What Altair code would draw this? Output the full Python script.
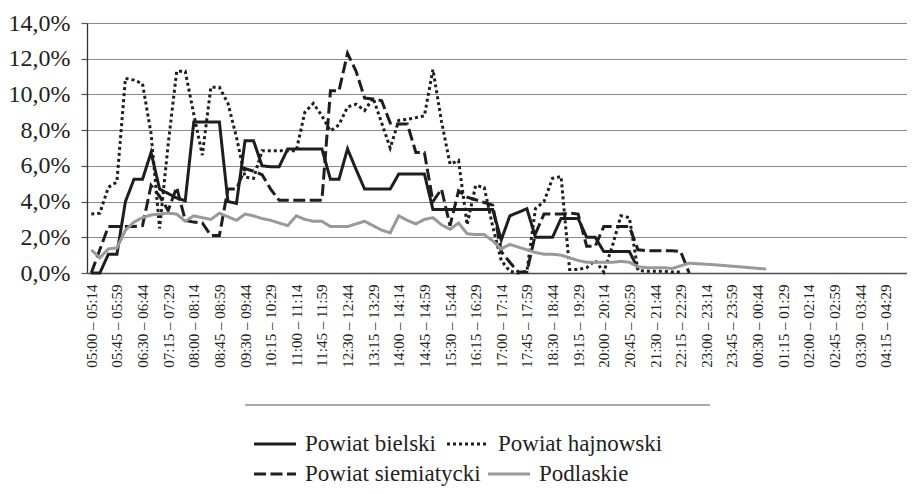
import altair as alt
import pandas as pd

# ---- categories: 15-minute intervals starting 05:00 ----
start_minutes = [(5 * 60 + 15 * k) % 1440 for k in range(96)]


def hhmm(m):
    return f"{m // 60:02d}:{m % 60:02d}"


slots = [f"{hhmm(m)} – {hhmm((m + 14) % 1440)}" for m in start_minutes]
tick_slots = slots[::3]

names_row1 = ["Powiat bielski", "Powiat hajnowski"]
names_row2 = ["Powiat siemiatycki", "Podlaskie"]

# ---- values in % ----
bielski = [0, 0, 1.05, 1.05, 4.0, 5.25, 5.25, 6.75, 4.7, 4.45,
           4.2, 4.05, 8.45, 8.45, 8.45, 8.45, 4.0, 3.9, 7.4, 7.4,
           6.0, 5.95, 5.95, 6.95, 6.95, 6.95, 6.95, 6.95, 5.25, 5.25,
           6.95, 5.8, 4.7, 4.7, 4.7, 4.7, 5.55, 5.55, 5.55, 5.55,
           3.55, 3.55, 3.55, 3.55, 3.55, 3.55, 3.55, 3.55, 1.85, 3.2,
           3.4, 3.6, 2.0, 2.0, 2.0, 3.05, 3.05, 3.05, 2.0, 2.0,
           1.2, 1.2, 1.2, 1.2, 0.25]

hajnowski = [3.3, 3.35, 4.8, 5.1, 10.9, 10.8, 10.6, 7.8, 2.5, 7.2,
             11.3, 11.3, 8.9, 6.6, 10.4, 10.4, 9.5, 7.6, 5.37, 5.3,
             6.85, 6.85, 6.85, 6.85, 6.85, 9.0, 9.5, 8.8, 7.95, 8.3,
             9.3, 9.45, 9.1, 9.8, 8.4, 7.0, 8.55, 8.6, 8.7, 8.8,
             11.4, 8.5, 6.1, 6.3, 2.7, 4.9, 4.8, 2.6, 0.7, 0.1,
             0.0, 0.1, 3.6, 4.0, 5.3, 5.4, 0.2, 0.2, 0.3, 0.7,
             0.05, 1.5, 3.2, 3.1, 0.15, 0.1, 0.1, 0.1, 0.05, 0.05]

siemiatycki = [0, 1.3, 2.6, 2.6, 2.6, 2.6, 2.65, 4.9, 4.3, 3.5,
               4.8, 2.95, 2.85, 2.8, 2.1, 2.1, 4.7, 4.7, 5.85, 5.7,
               5.5, 4.7, 4.07, 4.07, 4.07, 4.07, 4.07, 4.07, 10.2, 10.2,
               12.3, 11.3, 9.8, 9.75, 9.65, 8.4, 8.35, 8.35, 6.75, 6.75,
               4.0, 4.7, 2.65, 4.6, 4.25, 4.1, 3.95, 3.8, 1.2, 0.6,
               0.05, 0.05, 2.2, 3.3, 3.3, 3.3, 3.35, 3.3, 1.5, 1.5,
               2.6, 2.6, 2.6, 2.6, 1.3, 1.25, 1.25, 1.25, 1.25, 1.2,
               0.0]

podlaskie = [1.3, 0.85, 1.35, 1.4, 2.4, 2.85, 3.1, 3.25, 3.3, 3.35,
             3.3, 2.9, 3.2, 3.1, 3.0, 3.35, 3.15, 2.95, 3.3, 3.2,
             3.05, 2.95, 2.8, 2.65, 3.2, 3.0, 2.9, 2.9, 2.6, 2.6,
             2.6, 2.75, 2.9, 2.65, 2.4, 2.25, 3.2, 2.95, 2.75, 3.0,
             3.1, 2.7, 2.45, 2.8, 2.2, 2.15, 2.15, 1.8, 1.35, 1.6,
             1.45, 1.3, 1.15, 1.05, 1.05, 1.0, 0.85, 0.7, 0.6, 0.6,
             0.6, 0.6, 0.65, 0.6, 0.35, 0.3, 0.3, 0.3, 0.25, 0.4,
             0.55, 0.52, 0.49, 0.46, 0.42, 0.38, 0.34, 0.3, 0.26, 0.22]

y_ticks = [0, 2, 4, 6, 8, 10, 12, 14]

colors_row1 = ["#1e1e1e", "#1e1e1e"]
dashes_row1 = [[1, 0], [3, 3]]
colors_row2 = ["#1e1e1e", "#999999"]
dashes_row2 = [[12, 4.5], [1, 0]]


def frame(names, arrays):
    rows = []
    for name, vals in zip(names, arrays):
        for i, v in enumerate(vals):
            rows.append({"slot": slots[i], "idx": i, "series": name, "value": v})
    return pd.DataFrame(rows)


df1 = frame(names_row1, [bielski, hajnowski])
df2 = frame(names_row2, [siemiatycki, podlaskie])

FONT = "Liberation Serif"
TXT = "#231f20"

x_enc = alt.X(
    "slot:O",
    scale=alt.Scale(domain=slots, type="point", padding=0.5),
    axis=alt.Axis(
        title=None, values=tick_slots, labelAngle=-90, ticks=False,
        grid=False, labelFont=FONT, labelFontSize=15, labelColor=TXT,
        labelPadding=11, labelOverlap=False, domainColor="#4d4d4d",
        domainWidth=1.3,
    ),
)
y_enc = alt.Y(
    "value:Q",
    scale=alt.Scale(domain=[0, 14], nice=False),
    axis=alt.Axis(
        title=None, values=y_ticks,
        labelExpr="replace(format(datum.value, '.1f'), '.', ',') + '%'",
        labelFont=FONT, labelFontSize=24, labelColor=TXT, labelPadding=11,
        tickSize=6, tickColor="#555555", tickWidth=1.2,
        grid=True, gridColor="#8a8a8a", gridWidth=1.2,
        domainColor="#333333", domainWidth=1.3,
    ),
)


def make_legend(ly, pad):
    return alt.Legend(
        title=None, orient="none", legendX=176, legendY=ly,
        direction="horizontal", columnPadding=pad,
        labelFont=FONT, labelFontSize=23, labelColor=TXT, labelOffset=18,
        symbolType="M-2,0H2", symbolSize=441, symbolStrokeWidth=3,
        labelLimit=400,
    )


leg1 = make_legend(409, 5)
leg2 = make_legend(439, 1)

lines1 = alt.Chart(df1).mark_line(strokeWidth=3, strokeCap="butt").encode(
    x=x_enc, y=y_enc,
    color=alt.Color("series:N", scale=alt.Scale(domain=names_row1, range=colors_row1), legend=leg1),
    strokeDash=alt.StrokeDash("series:N", scale=alt.Scale(domain=names_row1, range=dashes_row1), legend=leg1),
    order=alt.Order("idx:Q"),
)

lines2 = alt.Chart(df2).mark_line(strokeWidth=3, strokeCap="butt").encode(
    x=x_enc, y=y_enc,
    color=alt.Color("series:N", scale=alt.Scale(domain=names_row2, range=colors_row2), legend=leg2),
    strokeDash=alt.StrokeDash("series:N", scale=alt.Scale(domain=names_row2, range=dashes_row2), legend=leg2),
    order=alt.Order("idx:Q"),
)

sep = alt.Chart(pd.DataFrame({"a": [0]})).mark_rule(color="#555555", strokeWidth=1.2).encode(
    x=alt.value(158), x2=alt.value(623), y=alt.value(382)
)

chart = alt.layer(lines1, lines2, sep).resolve_scale(
    color="independent", strokeDash="independent"
).properties(
    width=820, height=250,
    padding={"left": 0, "top": 3, "right": 0, "bottom": 0},
).configure_view(stroke=None)

chart.save("out.html", embed_options={"renderer": "svg", "actions": False})
